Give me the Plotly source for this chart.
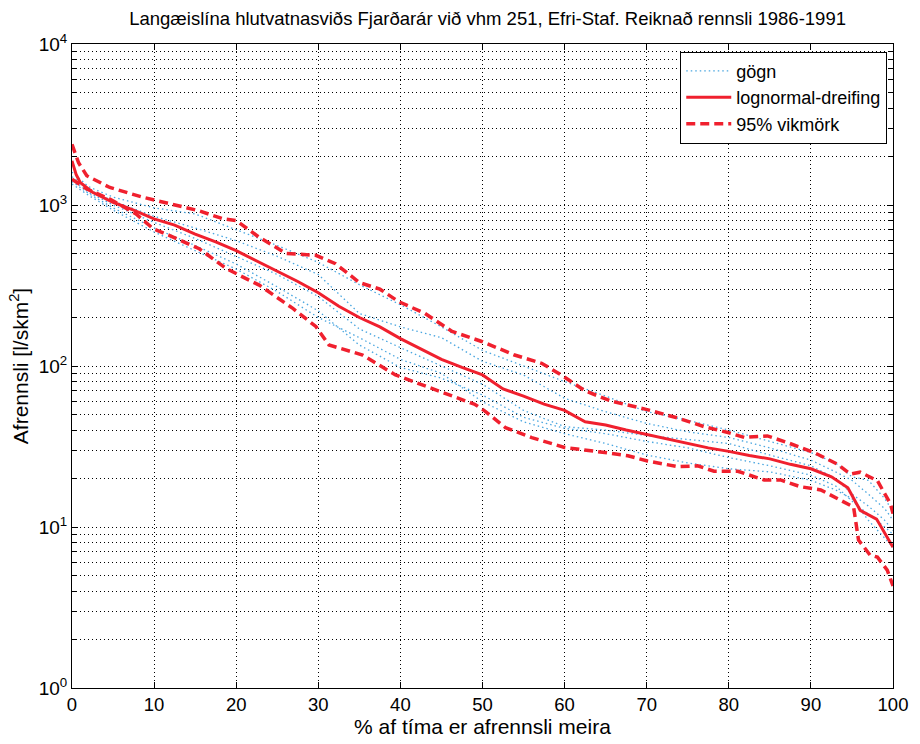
import plotly.graph_objects as go

# ---- data ----
sol_x = [0, 0.5, 1, 2.5, 5, 7.5, 10, 12.5, 15, 17.5, 20, 22.5, 25, 27.5, 30, 32.5, 35, 37.5, 40, 42.5,
         45, 47.5, 50, 52.5, 55, 57.5, 60, 62.5, 65, 67.5, 70, 72.5, 75, 77.5, 80, 82.5, 85, 87.5, 90,
         92.5, 94.5, 96, 98, 100]
sol_y = [1880, 1550, 1380, 1200, 1040, 930, 820, 750, 660, 590, 520, 450, 390, 335, 285, 235, 200, 175, 148, 128,
         110, 98, 88, 72, 65, 58, 53, 45, 43, 40, 37.5, 35, 33, 31, 29.5, 27.8, 26.5, 24.5, 23,
         20.5, 17.5, 12.7, 11.2, 7.5]

up_x = [0, 0.8, 1.8, 4.6, 8.7, 11.9, 15.5, 18.4, 20, 22.8, 26.1, 29.7, 32.1, 35, 37.5, 39.8, 43, 46.3, 49.9,
        53.9, 57.2, 59.6, 62.5, 65.7, 69.8, 73.8, 77, 79.9, 81.9, 84.7, 87.1, 90.4, 93.2, 94.8, 96, 98.1, 99.7, 100]
up_y = [2380, 1830, 1520, 1285, 1115, 1015, 920, 820, 800, 630, 500, 487, 432, 330, 300, 251, 212, 164, 142,
        117, 104, 88, 70, 60.5, 54, 47.5, 42, 38.6, 36, 36.8, 33.5, 29, 24.6, 21.3, 21.9, 19.4, 13.9, 12.1]

lo_x = [0, 1.8, 4.6, 7.8, 9.9, 11.9, 15.5, 18.8, 21.2, 22.8, 26.9, 29.7, 31.3, 33.3, 35.4, 39.4, 43, 46.3, 49.1,
        50.3, 52.8, 56, 60, 64.9, 67.7, 70.1, 73.8, 76.2, 78.2, 81.1, 84.3, 86.3, 88.7, 91.2, 94, 95.2, 95.8,
        97.2, 98.1, 99.3, 100]
lo_y = [1445, 1256, 1089, 880, 711, 646, 535, 403, 349, 318, 228, 176, 135, 126, 117, 88, 75, 65, 57.7,
        52.5, 41.4, 35.9, 31.2, 29, 27.7, 25.7, 23.7, 24, 22.2, 22.2, 19.6, 19.6, 17.8, 17, 14.2, 13.3, 8.3,
        6.7, 6.5, 5.4, 4.3]

data_x = [0, 2, 5, 10, 15, 20, 25, 30, 35, 40, 45, 50, 55, 60, 65, 70, 75, 80, 85, 90, 93, 95, 97, 99, 100]
data_a = [1600, 1300, 1120, 960, 880, 700, 560, 440, 320, 240, 175, 125, 100, 80, 65, 52, 46, 40, 34, 29, 25, 20.5, 19.5, 15, 12.5]
data_b = [1500, 1250, 1060, 850, 720, 600, 480, 370, 212, 175, 150, 107, 88, 63, 52, 44, 39, 36, 31, 26, 22, 19.5, 16, 13, 11]
data_c = [1450, 1200, 1000, 780, 620, 480, 370, 270, 170, 130, 100, 77, 53, 42, 40, 37, 35, 33, 28, 24, 20, 16, 13.5, 11, 9.5]
data_d = [1400, 1180, 960, 720, 560, 430, 310, 220, 135, 98, 84, 66, 48, 41, 38, 34, 31, 27, 24, 21, 18, 14.5, 12, 10, 9]
data_e = [1350, 1150, 930, 680, 520, 400, 290, 200, 150, 110, 90, 60, 45, 38, 33, 28, 25, 23, 22, 19.5, 17, 15, 11, 8.5, 7.5]
data_series = [data_a, data_b, data_c, data_d, data_e]

xticks = [0, 10, 20, 30, 40, 50, 60, 70, 80, 90, 100]
yticks = [1, 10, 100, 1000, 10000]
ytick_text = ["10<sup>0</sup>", "10<sup>1</sup>", "10<sup>2</sup>", "10<sup>3</sup>", "10<sup>4</sup>"]
yminor = [m * d for d in [1, 10, 100, 1000] for m in range(2, 10)]

title = "Langæislína hlutvatnasviðs Fjarðarár við vhm 251, Efri-Staf. Reiknað rennsli 1986-1991"
xlabel = "% af tíma er afrennsli meira"
ylabel = "Afrennsli [l/skm<sup>2</sup>]"

FONT = "Liberation Sans, Arial, sans-serif"
RED = "#f0202e"
BLUE = "#4aa6e0"

fig = go.Figure()
for i, s in enumerate(data_series):
    fig.add_trace(go.Scatter(x=data_x, y=s, mode="lines", name="gögn",
                             line=dict(color=BLUE, width=1.3, dash="1.5px,3px"),
                             showlegend=(i == 0), legendgroup="g"))
fig.add_trace(go.Scatter(x=sol_x, y=sol_y, mode="lines", name="lognormal-dreifing",
                         line=dict(color=RED, width=3)))
fig.add_trace(go.Scatter(x=up_x, y=up_y, mode="lines", name="95% vikmörk",
                         line=dict(color=RED, width=3.5, dash="9px,5px"), legendgroup="v"))
fig.add_trace(go.Scatter(x=lo_x, y=lo_y, mode="lines", name="95% vikmörk",
                         line=dict(color=RED, width=3.5, dash="9px,5px"), legendgroup="v", showlegend=False))

fig.update_layout(
    width=920, height=744,
    margin=dict(l=72, r=24, t=44, b=52),
    paper_bgcolor="white", plot_bgcolor="white",
    font=dict(family=FONT, size=17, color="black"),
    title=dict(text=title, x=0.53, xanchor="center", y=0.975, yanchor="middle",
               font=dict(family=FONT, size=18.5, color="black")),
    showlegend=True,
    legend=dict(x=0.993, y=0.988, xanchor="right", yanchor="top",
                bordercolor="black", borderwidth=1, bgcolor="white",
                font=dict(family=FONT, size=18), tracegroupgap=0,
                itemwidth=45),
)
fig.update_xaxes(
    range=[0, 100], tickvals=xticks, ticktext=[str(v) for v in xticks],
    showgrid=True, gridcolor="black", griddash="1px,3px", gridwidth=1,
    showline=True, linecolor="black", linewidth=1, mirror="ticks",
    ticks="inside", ticklen=6, tickcolor="black",
    zeroline=False, title=dict(text=xlabel, standoff=2, font=dict(size=21)),
    tickfont=dict(size=18.5),
)
fig.update_yaxes(
    type="log", range=[0, 4], tickvals=yticks, ticktext=ytick_text,
    showgrid=True, gridcolor="black", griddash="1px,3px", gridwidth=1,
    showline=True, linecolor="black", linewidth=1, mirror="ticks",
    ticks="inside", ticklen=6, tickcolor="black",
    minor=dict(tickvals=yminor, showgrid=True, gridcolor="black", griddash="1px,3px",
               gridwidth=1, ticks="inside", ticklen=4, tickcolor="black"),
    zeroline=False, title=dict(text=ylabel, standoff=4, font=dict(size=21)),
    tickfont=dict(size=19),
)

fig.write_html("out.html")
